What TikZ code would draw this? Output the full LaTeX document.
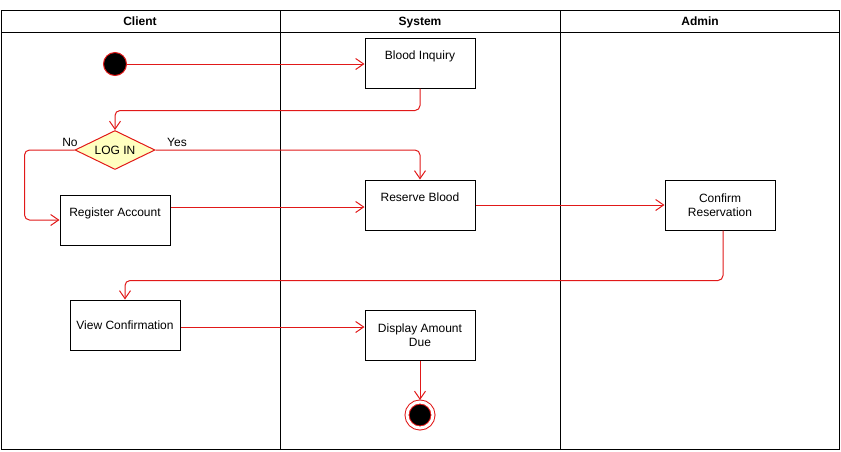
\documentclass[tikz,border=0pt]{standalone}
\usepackage{fontspec}
\setmainfont{Liberation Sans}
\usepackage{xcolor}
\usetikzlibrary{arrows.meta, positioning, shapes.geometric}
\definecolor{flowred}{RGB}{225,25,25}
\definecolor{guardyellow}{RGB}{255,255,192}

\begin{document}
\begin{tikzpicture}[
    x=1pt, y=-1pt,
    font=\fontsize{12pt}{14.5pt}\selectfont,
    lane/.style={draw, line width=1pt},
    lanehead/.style={font=\fontsize{12pt}{14.5pt}\selectfont\bfseries, anchor=base},
    activity/.style={draw, line width=1pt, align=center, minimum width=110pt, minimum height=50pt, inner sep=2pt},
    activitytop/.style={activity, text depth=15pt},
    decision/.style={diamond, draw=flowred, line width=1pt, fill=guardyellow, aspect=2, minimum width=80pt, minimum height=39pt, inner sep=0pt},
    initial/.style={circle, draw=flowred, fill=black, line width=1pt, minimum size=23pt, inner sep=0pt},
    final/.style={circle, draw=flowred, fill=black, line width=1pt, double=white, double distance=3pt, minimum size=26pt, inner sep=0pt, outer sep=2pt},
    guard/.style={inner sep=0pt},
    flow/.style={draw=flowred, line width=1pt, rounded corners=5pt, -{Straight Barb[length=8pt, width=11pt]}}
]
\useasboundingbox (0,0) rectangle (841,451);

\draw[lane] (1,10) rectangle (839,449);
\draw[lane] (1,32) -- (839,32);
\draw[lane] (280,10) -- (280,449);
\draw[lane] (560,10) -- (560,449);

\node[lanehead] (client) at (140,25.5) {Client};
\node[lanehead] (system) at (420,25.5) {System};
\node[lanehead] (admin) at (700,25.5) {Admin};

\node[initial] (start) at (115,64) {};
\node[activitytop] (inquiry) at (420,63) {Blood Inquiry};
\node[decision] (login) at (115,150) {LOG IN};
\node[guard] (no) at (70,142) {No};
\node[guard] (yes) at (177,142) {Yes};
\node[activitytop] (register) at (115,220) {Register Account};
\node[activitytop] (reserve) at (420,205) {Reserve Blood};
\node[activity] (confirm) at (720,205) {Confirm\\Reservation};
\node[activity] (view) at (125,325) {View Confirmation};
\node[activity] (display) at (420,335) {Display Amount\\Due};
\node[final] (stop) at (420,415) {};

\draw[flow] (start) -- (start -| inquiry.west);
\draw[flow] (inquiry.south) -- ++(0,22) -| (login.north);
\draw[flow] (login.west) -- ++(-50,0) |- (register.west);
\draw[flow] (login.east) -| (reserve.north);
\draw[flow] ([yshift=13pt]register.east) -- ([yshift=13pt]register.east -| reserve.west);
\draw[flow] (reserve) -- (confirm);
\draw[flow] ([xshift=3pt]confirm.south) -- ++(0,50) -| (view.north);
\draw[flow] ([yshift=-2pt]view.east) -- ([yshift=-2pt]view.east -| display.west);
\draw[flow] (display) -- (stop);

\end{tikzpicture}
\end{document}
